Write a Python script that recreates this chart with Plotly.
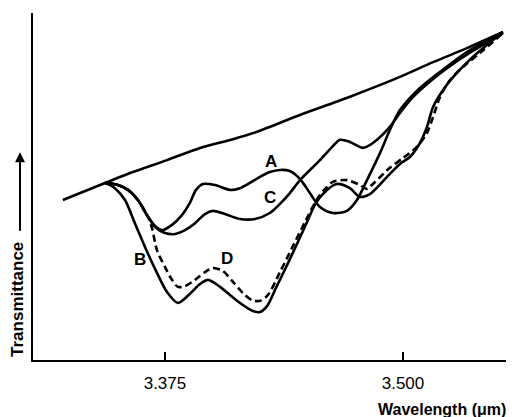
import plotly.graph_objects as go

# Wavelength (um) and transmittance (arbitrary units)
base_wl = [3.3214, 3.3409, 3.3582, 3.3761, 3.3934, 3.4107, 3.4228, 3.4459, 3.4632, 3.4811, 3.4984, 3.5158, 3.5336, 3.5525]
base_t = [45.7, 50.0, 53.7, 57.1, 60.6, 63.1, 65.1, 70.0, 73.4, 77.1, 80.9, 85.1, 89.1, 93.7]

a_wl = [3.3435, 3.3503, 3.3556, 3.3608, 3.3661, 3.3698, 3.3734, 3.3787, 3.3839, 3.3881, 3.3913, 3.3950, 3.4013, 3.4091,
        3.4144, 3.4196, 3.4249, 3.4301, 3.4354, 3.4406, 3.4443, 3.4475, 3.4511, 3.4564, 3.4632, 3.4706, 3.4758, 3.4811,
        3.4879, 3.4931, 3.4984, 3.5073, 3.5194, 3.5336, 3.5525]
a_t = [50.6, 50.0, 48.6, 45.7, 40.9, 38.3, 37.1, 38.6, 41.4, 44.9, 48.6, 50.3, 50.0, 48.6,
       49.1, 50.6, 52.3, 53.7, 54.3, 54.0, 52.6, 50.6, 47.7, 43.7, 42.0, 42.6, 45.7, 51.4,
       59.1, 65.7, 71.4, 76.9, 82.3, 88.0, 93.7]

c_wl = [3.3435, 3.3503, 3.3556, 3.3608, 3.3661, 3.3698, 3.3750, 3.3803, 3.3855, 3.3908, 3.3960, 3.4002, 3.4065, 3.4144,
        3.4223, 3.4301, 3.4354, 3.4406, 3.4459, 3.4564, 3.4632, 3.4669, 3.4721, 3.4790, 3.4842, 3.4931, 3.4984, 3.5052,
        3.5158, 3.5263, 3.5367, 3.5525]
c_t = [50.6, 50.0, 48.6, 45.7, 40.9, 38.0, 36.3, 36.0, 37.1, 39.1, 41.7, 42.6, 41.7, 40.3,
       40.3, 42.0, 44.6, 47.7, 51.4, 57.1, 61.1, 62.9, 62.3, 60.6, 62.0, 66.6, 70.6, 75.1,
       80.3, 84.6, 88.3, 93.4]

b_wl = [3.3435, 3.3487, 3.3540, 3.3592, 3.3645, 3.3708, 3.3761, 3.3818, 3.3881, 3.3934, 3.3976, 3.4039, 3.4091, 3.4144,
        3.4212, 3.4249, 3.4286, 3.4333, 3.4391, 3.4448, 3.4501, 3.4543, 3.4601, 3.4653, 3.4721, 3.4774, 3.4826, 3.4916,
        3.4984, 3.5036, 3.5089, 3.5126, 3.5158, 3.5210, 3.5283, 3.5367, 3.5525]
b_t = [50.6, 49.1, 45.7, 39.1, 32.3, 24.9, 19.4, 16.3, 18.9, 21.7, 22.9, 20.9, 18.6, 16.3,
       14.0, 13.7, 15.4, 20.6, 27.1, 33.7, 40.0, 44.9, 48.6, 50.3, 49.1, 46.6, 47.4, 52.3,
       56.0, 58.0, 62.0, 66.6, 72.3, 77.1, 82.0, 86.6, 93.7]

d_wl = [3.3435, 3.3503, 3.3556, 3.3608, 3.3661, 3.3682, 3.3708, 3.3750, 3.3787, 3.3818, 3.3855, 3.3908, 3.3960, 3.4002,
        3.4055, 3.4107, 3.4160, 3.4207, 3.4249, 3.4291, 3.4354, 3.4417, 3.4485, 3.4553, 3.4595, 3.4632, 3.4706, 3.4774,
        3.4811, 3.4842, 3.4931, 3.5000, 3.5073, 3.5126, 3.5158, 3.5194, 3.5247, 3.5315, 3.5404, 3.5525]
d_t = [50.6, 50.0, 48.6, 45.7, 40.9, 37.7, 31.4, 26.6, 22.9, 20.9, 21.1, 22.9, 25.1, 26.3,
       25.4, 22.3, 19.1, 17.1, 16.9, 18.6, 25.1, 32.0, 39.4, 46.3, 49.1, 50.9, 51.4, 50.0,
       48.9, 50.3, 54.9, 57.7, 60.9, 64.9, 69.4, 75.1, 80.0, 83.7, 87.7, 93.4]

tick_vals = [3.375, 3.500]
tick_text = ["3.375", "3.500"]

curve_labels = ["A", "B", "C", "D"]
label_wl = [3.4307, 3.3619, 3.4301, 3.4076]
label_t = [56.6, 28.6, 46.3, 29.1]

FONT = "Liberation Sans, Arial, Helvetica, sans-serif"

fig = go.Figure()
line_style = dict(color="black", width=2.6, shape="spline", smoothing=0.8)
fig.add_trace(go.Scatter(x=base_wl, y=base_t, mode="lines", line=line_style, hoverinfo="skip"))
fig.add_trace(go.Scatter(x=a_wl, y=a_t, mode="lines", line=line_style, hoverinfo="skip"))
fig.add_trace(go.Scatter(x=c_wl, y=c_t, mode="lines", line=line_style, hoverinfo="skip"))
fig.add_trace(go.Scatter(x=b_wl, y=b_t, mode="lines", line=line_style, hoverinfo="skip"))
fig.add_trace(go.Scatter(x=d_wl, y=d_t, mode="lines",
                         line=dict(color="black", width=2.6, shape="spline", smoothing=0.8, dash="7px,4px"),
                         hoverinfo="skip"))

for lab, xw, yt in zip(curve_labels, label_wl, label_t):
    fig.add_annotation(x=xw, y=yt, xref="x", yref="y", text="<b>%s</b>" % lab, showarrow=False,
                       xanchor="center", yanchor="middle",
                       font=dict(family=FONT, size=17, color="black"))

# axis titles
fig.add_annotation(x=1.004, y=-0.144, xref="paper", yref="paper", xanchor="right", yanchor="middle",
                   text="<b>Wavelength (μm)</b>", showarrow=False,
                   font=dict(family=FONT, size=16, color="black"))
fig.add_annotation(x=-0.0317, y=0.173, xref="paper", yref="paper", textangle=-90,
                   xanchor="center", yanchor="middle",
                   text="<b>Transmittance</b>", showarrow=False,
                   font=dict(family=FONT, size=17, color="black"))
fig.add_annotation(x=-0.0275, y=0.599, xref="paper", yref="paper", ax=0, ay=80, axref="pixel", ayref="pixel",
                   text="", showarrow=True, arrowhead=2, arrowsize=1, arrowwidth=2, arrowcolor="black")

fig.update_layout(
    width=512, height=417,
    margin=dict(l=33, r=6, t=13, b=57),
    paper_bgcolor="white", plot_bgcolor="white",
    showlegend=False,
    xaxis=dict(range=[3.3057, 3.5541], showline=True, linecolor="black", linewidth=2,
               showgrid=False, zeroline=False, tickvals=tick_vals, ticktext=tick_text,
               ticks="inside", ticklen=8, tickwidth=1.5, tickcolor="black",
               ticklabelstandoff=7,
               tickfont=dict(family=FONT, size=17, color="black")),
    yaxis=dict(range=[0, 99.14], showline=True, linecolor="black", linewidth=2,
               showgrid=False, zeroline=False, showticklabels=False, ticks=""),
)

fig.write_html("out.html", config={"displayModeBar": False},
               post_script="document.body.style.margin='0';")
